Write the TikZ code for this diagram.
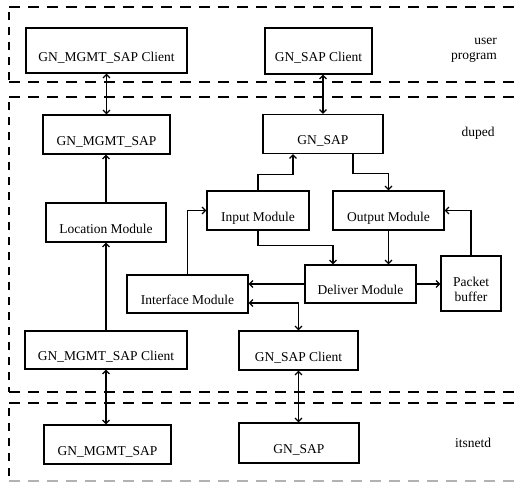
\documentclass[tikz,border=0pt]{standalone}
\usepackage{fontspec}
\setmainfont{Liberation Serif}
\usetikzlibrary{arrows.meta}
\begin{document}
\begin{tikzpicture}[x=1pt,y=-1pt,
  box/.style={draw, line width=1.2pt, rectangle, inner sep=0pt, text height=24pt, text depth=3pt,
    font=\fontsize{13.5}{15}\selectfont},
  txt/.style={inner sep=0pt, font=\fontsize{13.5}{15}\selectfont},
  arr/.style={line width=1.2pt, -{Straight Barb[length=3.5pt,width=7pt]}},
  darr/.style={line width=1.2pt, {Straight Barb[length=3.5pt,width=7pt]}-{Straight Barb[length=3.5pt,width=7pt]}},
  dshh/.style={line width=1.5pt, dash pattern=on 11pt off 8pt},
  dshv/.style={line width=1.5pt, dash pattern=on 8pt off 7pt}]
\useasboundingbox (0,0) rectangle (516,482);
% regions
\draw[dshh] (9,7) -- (516,7);
\draw[dshv] (9,12) -- (9,82);
\draw[dshh] (9,82) -- (516,82);
\draw[dshh] (9,97) -- (516,97);
\draw[dshv] (9,102) -- (9,392);
\draw[dshh] (9,392) -- (516,392);
\draw[dshh] (9,403) -- (516,403);
\draw[dshv] (9,408) -- (9,476);
\draw[dshh, gray!60] (9,481) -- (516,481);
% labels
\node[txt, align=right, anchor=east] (lblu) at (497,50) {user\\program};
\node[txt] (lbld) at (478,133) {duped};
\node[txt] (lbli) at (473,443) {itsnetd};
% boxes
\node[box, minimum width=161pt, minimum height=45pt] (ucm) at (106.5,50.5) {GN\_MGMT\_SAP Client};
\node[box, minimum width=107pt, minimum height=46pt] (ucs) at (318.5,51) {GN\_SAP Client};
\node[box, minimum width=127pt, minimum height=39pt] (dmgmt) at (106.5,134.5) {GN\_MGMT\_SAP};
\node[box, minimum width=120pt, minimum height=39pt] (dsap) at (323,134) {GN\_SAP};
\node[box, minimum width=120pt, minimum height=39pt] (loc) at (106,222.5) {Location Module};
\node[box, minimum width=102pt, minimum height=39pt] (input) at (258,210.5) {Input Module};
\node[box, minimum width=111pt, minimum height=39pt] (output) at (388.5,210.5) {Output Module};
\node[box, minimum width=111pt, minimum height=38pt] (deliver) at (360.5,284) {Deliver Module};
\node[box, minimum width=60pt, minimum height=55pt, text height=, text depth=] (packet) at (471,283.5) {};
\node[txt, align=center] (packettxt) at (471,289.5) {Packet\\buffer};
\node[box, minimum width=121pt, minimum height=38pt] (interface) at (187.5,294) {Interface Module};
\node[box, minimum width=162pt, minimum height=38pt] (dmc) at (106,350) {GN\_MGMT\_SAP Client};
\node[box, minimum width=119pt, minimum height=39pt] (dsc) at (298.5,350.5) {GN\_SAP Client};
\node[box, minimum width=127pt, minimum height=39pt] (imgmt) at (107.5,444.5) {GN\_MGMT\_SAP};
\node[box, minimum width=120pt, minimum height=40pt] (isap) at (299,443) {GN\_SAP};
% connectors
\draw[darr] (ucm.south) -- (ucm.south |- dmgmt.north);
\draw[darr] (dsap.north |- ucs.south) -- (dsap.north);
\draw[arr] (loc.north) -- (loc.north |- dmgmt.south);
\draw[arr] (dmc.north) -- (dmc.north |- loc.south);
\draw[arr] (input.north) -- ++(0,-16) -| ([xshift=-30pt]dsap.south);
\draw[arr] ([xshift=30pt]dsap.south) -- ++(0,19.5) -| (output.north);
\draw[arr] (output.south) -- (output.south |- deliver.north);
\draw[arr] (input.south) -- ++(0,15) -| ([xshift=-27.5pt]deliver.north);
\draw[arr] (packet.north) |- (output.east);
\draw[arr] (deliver.east) -- (packet.west |- deliver.east);
\draw[arr] (deliver.west) -- (deliver.west -| interface.east);
\draw[darr] ([yshift=-9pt]interface.east) -| (dsc.north);
\draw[arr] (interface.north) |- (input.west);
\draw[darr] (dmc.south) -- (dmc.south |- imgmt.north);
\draw[darr] (dsc.south) -- (dsc.south |- isap.north);
\end{tikzpicture}
\end{document}
